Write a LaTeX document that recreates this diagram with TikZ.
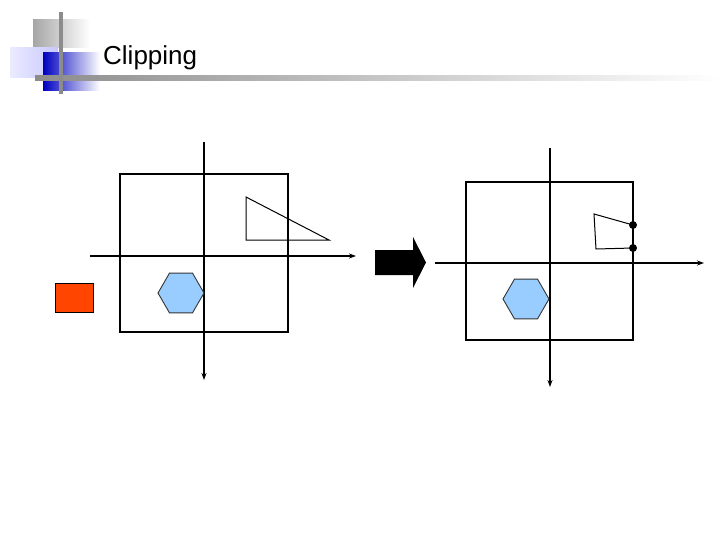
\documentclass[tikz,border=0pt]{standalone}
\usepackage{fontspec}
\setmainfont{Liberation Sans}
\usetikzlibrary{shapes.geometric,arrows.meta}

\definecolor{hexblue}{RGB}{153,204,255}
\definecolor{redorange}{RGB}{255,69,0}

\tikzset{
	frame/.style={draw=black, line width=2.5pt},
	axis/.style={-{Stealth[length=7pt,width=5pt]}, black, line width=1.3pt},
	hexa/.style={regular polygon, regular polygon sides=6, draw=black!80, fill=hexblue, minimum size=46pt, inner sep=0pt, line width=0.9pt},
	dot/.style={circle, fill=black, inner sep=0pt, minimum size=8pt}
}

\begin{document}
\begin{tikzpicture}[x=1pt,y=-1pt]
	\useasboundingbox (0,0) rectangle (720,540);

	% title decoration
	\shade[left color=black!35, right color=white] (33,20) rectangle (90,48);
	\shade[left color=blue!8, right color=blue!22] (10,48) rectangle (58,78);
	\shade[left color=blue!75!black, right color=white] (43,53) rectangle (100,91);
	\shade[left color=black!45, right color=white] (35,76) rectangle (720,81);
	\fill[black!45] (59,12) rectangle (63,94);
	\node[anchor=west, font=\fontsize{26}{30}\selectfont, inner sep=0pt] (title) at (103,58) {Clipping};

	% before clipping
	\node[draw, frame, minimum width=168pt, minimum height=158pt, inner sep=0pt] (winA) at (204,253) {};
	\coordinate (ayA) at (204,142);
	\coordinate (ayB) at (204,380);
	\coordinate (axA) at (90,256);
	\coordinate (axB) at (356,256);
	\draw[axis] (ayA) -- (ayB);
	\draw[axis] (axA) -- (axB);
	\draw[line width=1pt] (246,197) -- (246,240) -- (329,240) -- cycle;
	\node[hexa] (hexA) at (181,293) {};
	\node[rectangle, draw=black, fill=redorange, minimum width=38pt, minimum height=29pt, inner sep=0pt] (red) at (74,297.5) {};

	% block arrow
	\fill[black] (375,250) -- (413,250) -- (413,237) -- (426,262.5) -- (413,288) -- (413,275) -- (375,275) -- cycle;

	% after clipping
	\node[draw, frame, minimum width=167pt, minimum height=158pt, inner sep=0pt] (winB) at (549.5,261) {};
	\coordinate (byA) at (550,148);
	\coordinate (byB) at (550,387);
	\coordinate (bxA) at (435,263);
	\coordinate (bxB) at (704,263);
	\draw[axis] (byA) -- (byB);
	\draw[axis] (bxA) -- (bxB);
	\node[dot] (cutA) at (633,225) {};
	\node[dot] (cutB) at (633,248) {};
	\draw[line width=1pt] (cutA.center) -- (594,214) -- (596,249) -- (cutB.center);
	\node[hexa] (hexB) at (526,299) {};
\end{tikzpicture}
\end{document}
